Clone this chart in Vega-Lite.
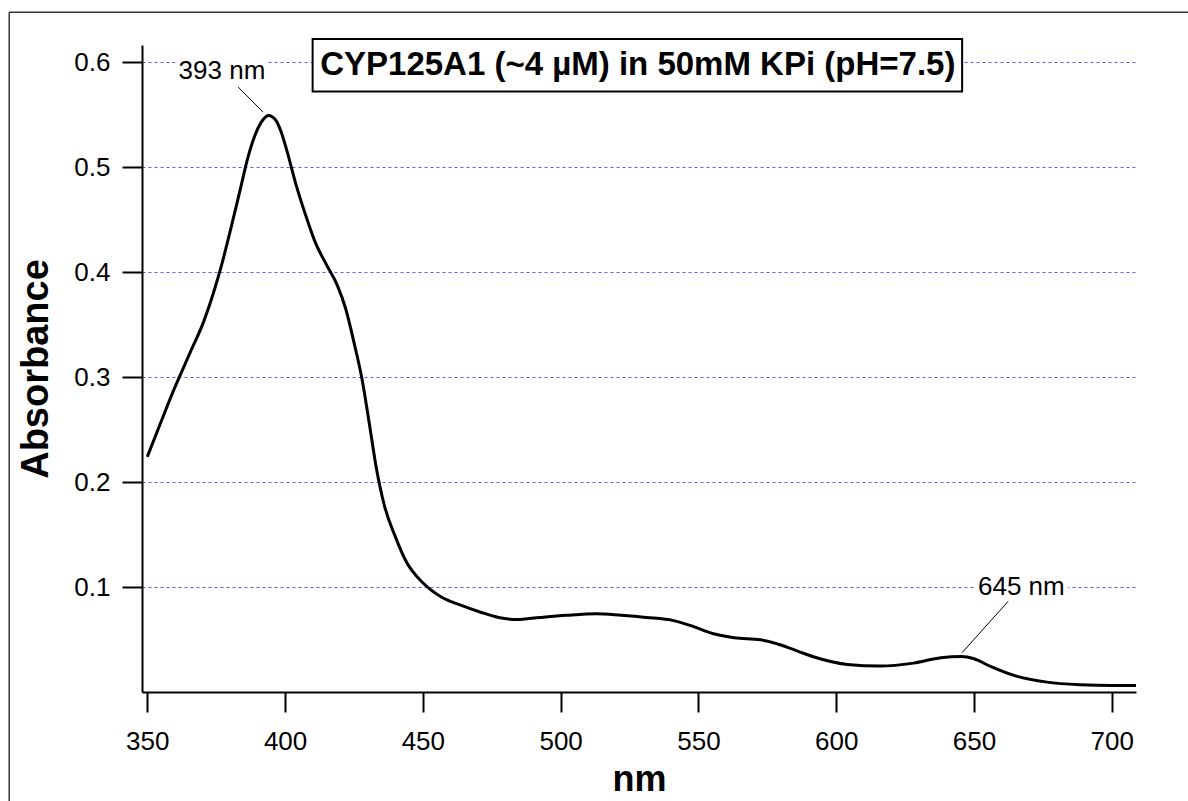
{
  "$schema": "https://vega.github.io/schema/vega-lite/v6.json",
  "width": 994,
  "height": 647,
  "autosize": {"type": "none"},
  "padding": {"left": 142, "top": 45, "right": 52, "bottom": 109},
  "background": "white",
  "config": {"view": {"stroke": null}, "font": "Liberation Sans"},
  "datasets": {
    "spectrum": [
      {"nm": 350, "abs": 0.224}, {"nm": 354.5, "abs": 0.254}, {"nm": 359.5, "abs": 0.287},
      {"nm": 365.5, "abs": 0.323}, {"nm": 370.5, "abs": 0.353}, {"nm": 374, "abs": 0.38},
      {"nm": 377, "abs": 0.407}, {"nm": 380, "abs": 0.438}, {"nm": 383.5, "abs": 0.476},
      {"nm": 386.5, "abs": 0.509}, {"nm": 389.5, "abs": 0.533}, {"nm": 392, "abs": 0.545},
      {"nm": 394, "abs": 0.549}, {"nm": 396.5, "abs": 0.545}, {"nm": 398.5, "abs": 0.534},
      {"nm": 400.5, "abs": 0.517}, {"nm": 404, "abs": 0.483}, {"nm": 408, "abs": 0.45},
      {"nm": 411, "abs": 0.428}, {"nm": 415, "abs": 0.407}, {"nm": 419, "abs": 0.387},
      {"nm": 422, "abs": 0.365}, {"nm": 425, "abs": 0.333}, {"nm": 428, "abs": 0.297},
      {"nm": 430.5, "abs": 0.257}, {"nm": 433, "abs": 0.215}, {"nm": 436, "abs": 0.178},
      {"nm": 440, "abs": 0.148}, {"nm": 444, "abs": 0.124}, {"nm": 450, "abs": 0.104},
      {"nm": 457, "abs": 0.09}, {"nm": 463.5, "abs": 0.083}, {"nm": 471, "abs": 0.076},
      {"nm": 477.5, "abs": 0.071}, {"nm": 484, "abs": 0.069}, {"nm": 492.5, "abs": 0.071},
      {"nm": 502, "abs": 0.073}, {"nm": 513, "abs": 0.0745}, {"nm": 522, "abs": 0.073},
      {"nm": 531, "abs": 0.071}, {"nm": 541, "abs": 0.068}, {"nm": 548, "abs": 0.0625},
      {"nm": 555.5, "abs": 0.0555}, {"nm": 563, "abs": 0.0517}, {"nm": 572.5, "abs": 0.0498},
      {"nm": 579, "abs": 0.0455}, {"nm": 586, "abs": 0.039}, {"nm": 592, "abs": 0.0333},
      {"nm": 604, "abs": 0.0263}, {"nm": 616, "abs": 0.0247}, {"nm": 628, "abs": 0.0275},
      {"nm": 638, "abs": 0.0327}, {"nm": 645.5, "abs": 0.0339}, {"nm": 650, "abs": 0.0317},
      {"nm": 656, "abs": 0.0244}, {"nm": 664.5, "abs": 0.0158}, {"nm": 676.5, "abs": 0.0094},
      {"nm": 688.5, "abs": 0.007}, {"nm": 700.5, "abs": 0.0063}, {"nm": 708.8, "abs": 0.0063}
    ],
    "labels": [
      {"nm": 377.1, "abs": 0.5838, "text": "393 nm"},
      {"nm": 667.2, "abs": 0.0921, "text": "645 nm"}
    ],
    "leaders": [
      {"nm": 383.0, "abs": 0.5761, "nm2": 392.0, "abs2": 0.5523},
      {"nm": 662.4, "abs": 0.0863, "nm2": 645.7, "abs2": 0.0375}
    ],
    "title": [
      {"text": "CYP125A1 (~4 µM) in 50mM KPi (pH=7.5)"}
    ]
  },
  "layer": [
    {
      "data": {"name": "spectrum"},
      "mark": {"type": "line", "color": "black", "strokeWidth": 3, "interpolate": "monotone", "strokeJoin": "round"},
      "encoding": {
        "x": {
          "field": "nm", "type": "quantitative",
          "scale": {"domain": [348.08, 708.8], "nice": false, "zero": false},
          "axis": {
            "title": "nm", "values": [350, 400, 450, 500, 550, 600, 650, 700], "grid": false,
            "domainColor": "black", "domainWidth": 2, "tickColor": "black", "tickWidth": 2, "tickSize": 20,
            "labelFont": "Liberation Sans", "labelFontSize": 26, "labelColor": "black", "labelPadding": 16,
            "labelFlush": false, "labelOverlap": false,
            "titleFont": "Liberation Sans", "titleFontSize": 36, "titleFontWeight": "bold", "titleColor": "black",
            "titleBaseline": "alphabetic", "titleY": 98
          }
        },
        "y": {
          "field": "abs", "type": "quantitative",
          "scale": {"domain": [0, 0.6162], "nice": false, "zero": false},
          "axis": {
            "title": "Absorbance", "values": [0.1, 0.2, 0.3, 0.4, 0.5, 0.6], "format": ".1f",
            "grid": true, "gridColor": "#5c5cff", "gridDash": [3, 3], "gridWidth": 1, "gridOpacity": 1,
            "domainColor": "black", "domainWidth": 2, "tickColor": "black", "tickWidth": 2, "tickSize": 20,
            "labelFont": "Liberation Sans", "labelFontSize": 26, "labelColor": "black", "labelPadding": 12,
            "titleFont": "Liberation Sans", "titleFontSize": 38, "titleFontWeight": "bold", "titleColor": "black",
            "titleAngle": 270, "titleBaseline": "alphabetic", "titleAlign": "center", "titleX": -95, "titleY": 323.5
          }
        }
      }
    },
    {
      "data": {"name": "title"},
      "mark": {"type": "rule", "color": "#333333", "strokeWidth": 1.5, "clip": false},
      "encoding": {
        "x": {"datum": 299.9, "type": "quantitative", "axis": {"title": "nm"}},
        "y": {"datum": 0.6473, "type": "quantitative", "axis": {"title": "Absorbance"}},
        "y2": {"datum": -0.3}
      }
    },
    {
      "data": {"name": "title"},
      "mark": {"type": "rule", "color": "#333333", "strokeWidth": 1.5, "clip": false},
      "encoding": {
        "x": {"datum": 299.9, "type": "quantitative", "axis": {"title": "nm"}},
        "x2": {"datum": 900},
        "y": {"datum": 0.6473, "type": "quantitative", "axis": {"title": "Absorbance"}}
      }
    },
    {
      "data": {"name": "leaders"},
      "mark": {"type": "rule", "color": "black", "strokeWidth": 1},
      "encoding": {
        "x": {"field": "nm", "type": "quantitative", "axis": {"title": "nm"}},
        "x2": {"field": "nm2"},
        "y": {"field": "abs", "type": "quantitative", "axis": {"title": "Absorbance"}},
        "y2": {"field": "abs2"}
      }
    },
    {
      "data": {"name": "labels"},
      "mark": {"type": "text", "font": "Liberation Sans", "fontSize": 26, "align": "center", "baseline": "alphabetic", "fill": "white", "stroke": "white", "strokeWidth": 10, "strokeJoin": "round"},
      "encoding": {
        "x": {"field": "nm", "type": "quantitative", "axis": {"title": "nm"}},
        "y": {"field": "abs", "type": "quantitative", "axis": {"title": "Absorbance"}},
        "text": {"field": "text"}
      }
    },
    {
      "data": {"name": "labels"},
      "mark": {"type": "text", "font": "Liberation Sans", "fontSize": 26, "align": "center", "baseline": "alphabetic", "color": "black"},
      "encoding": {
        "x": {"field": "nm", "type": "quantitative", "axis": {"title": "nm"}},
        "y": {"field": "abs", "type": "quantitative", "axis": {"title": "Absorbance"}},
        "text": {"field": "text"}
      }
    },
    {
      "data": {"name": "title"},
      "mark": {"type": "rect", "fill": "white", "stroke": "black", "strokeWidth": 2, "clip": false},
      "encoding": {
        "x": {"datum": 410, "type": "quantitative", "axis": {"title": "nm"}},
        "x2": {"datum": 645.7},
        "y": {"datum": 0.6219, "type": "quantitative", "axis": {"title": "Absorbance"}},
        "y2": {"datum": 0.5719}
      }
    },
    {
      "data": {"name": "title"},
      "mark": {"type": "text", "font": "Liberation Sans", "fontSize": 33, "fontWeight": "bold", "align": "center", "baseline": "alphabetic", "color": "black", "clip": false},
      "encoding": {
        "x": {"datum": 528.0, "type": "quantitative", "axis": {"title": "nm"}},
        "y": {"datum": 0.5876, "type": "quantitative", "axis": {"title": "Absorbance"}},
        "text": {"field": "text"}
      }
    }
  ]
}
